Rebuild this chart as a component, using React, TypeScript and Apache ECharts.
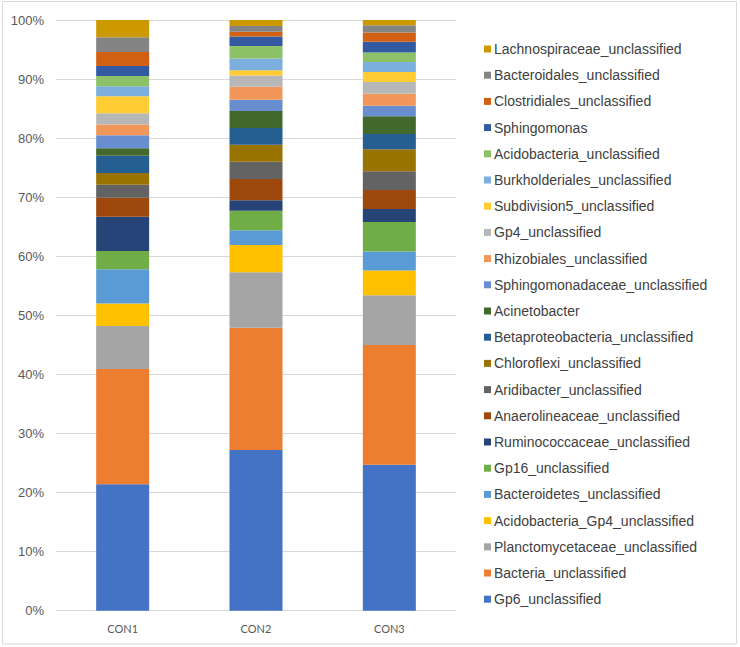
import React, { useEffect, useRef } from "react";
import * as echarts from "echarts";

const categories = ["CON1", "CON2", "CON3"];

const seriesNames = [
  "Gp6_unclassified",
  "Bacteria_unclassified",
  "Planctomycetaceae_unclassified",
  "Acidobacteria_Gp4_unclassified",
  "Bacteroidetes_unclassified",
  "Gp16_unclassified",
  "Ruminococcaceae_unclassified",
  "Anaerolineaceae_unclassified",
  "Aridibacter_unclassified",
  "Chloroflexi_unclassified",
  "Betaproteobacteria_unclassified",
  "Acinetobacter",
  "Sphingomonadaceae_unclassified",
  "Rhizobiales_unclassified",
  "Gp4_unclassified",
  "Subdivision5_unclassified",
  "Burkholderiales_unclassified",
  "Acidobacteria_unclassified",
  "Sphingomonas",
  "Clostridiales_unclassified",
  "Bacteroidales_unclassified",
  "Lachnospiraceae_unclassified",
];

// values in %, per series: [CON1, CON2, CON3]
const gp6 = [21.4, 27.2, 24.7];
const bacteria = [19.5, 20.7, 20.3];
const planctomycetaceae = [7.3, 9.4, 8.4];
const acidobacteriaGp4 = [3.8, 4.6, 4.2];
const bacteroidetes = [5.8, 2.5, 3.2];
const gp16 = [3.1, 3.3, 5.0];
const ruminococcaceae = [5.8, 1.8, 2.2];
const anaerolineaceae = [3.2, 3.6, 3.2];
const aridibacter = [2.2, 2.9, 3.2];
const chloroflexi = [2.0, 2.9, 3.7];
const betaproteobacteria = [2.9, 2.8, 2.6];
const acinetobacter = [1.3, 2.9, 3.0];
const sphingomonadaceae = [2.2, 1.9, 1.8];
const rhizobiales = [1.8, 2.2, 2.0];
const gp4 = [1.9, 1.9, 2.0];
const subdivision5 = [2.9, 0.9, 1.7];
const burkholderiales = [1.7, 2.0, 1.7];
const acidobacteria = [1.7, 2.1, 1.6];
const sphingomonas = [1.7, 1.6, 1.8];
const clostridiales = [2.4, 0.8, 1.6];
const bacteroidales = [2.5, 1.0, 1.2];
const lachnospiraceae = [2.9, 1.0, 0.9];

const seriesValues = [
  gp6, bacteria, planctomycetaceae, acidobacteriaGp4, bacteroidetes, gp16,
  ruminococcaceae, anaerolineaceae, aridibacter, chloroflexi, betaproteobacteria,
  acinetobacter, sphingomonadaceae, rhizobiales, gp4, subdivision5,
  burkholderiales, acidobacteria, sphingomonas, clostridiales, bacteroidales,
  lachnospiraceae,
];

const colors = [
  "#4472C4", "#ED7D31", "#A5A5A5", "#FFC000", "#5B9BD5", "#70AD47",
  "#264478", "#9E480E", "#636363", "#997300", "#255E91", "#43682B",
  "#698ED0", "#F1975A", "#B7B7B7", "#FFCD33", "#7CAFDD", "#8CC168",
  "#335AA1", "#D26012", "#848484", "#CC9A00",
];

const yTicks = [0, 10, 20, 30, 40, 50, 60, 70, 80, 90, 100];

export default function App() {
  const ref = useRef<HTMLDivElement>(null);
  useEffect(() => {
    if (!ref.current) return;
    const chart = echarts.init(ref.current, null, { renderer: "svg" });
    chart.setOption({
      animation: false,
      backgroundColor: "#ffffff",
      color: colors,
      graphic: [
        {
          type: "rect",
          shape: { x: 2.5, y: 1.5, width: 734, height: 642.5 },
          style: { fill: "none", stroke: "#D9D9D9", lineWidth: 1 },
          silent: true,
        },
      ],
      grid: { left: 56, top: 20, width: 400, height: 590.7, containLabel: false },
      legend: {
        orient: "vertical",
        left: 479,
        top: 36,
        itemWidth: 7,
        itemHeight: 7,
        itemGap: 10.2,
        icon: "rect",
        data: seriesNames.slice().reverse(),
        textStyle: {
          fontFamily: "Liberation Sans, Arial, sans-serif",
          fontSize: 14,
          color: "#404040",
          lineHeight: 16,
          padding: [0, 0, 0, -2],
        },
      },
      xAxis: {
        type: "category",
        data: categories,
        axisLine: { lineStyle: { color: "#D9D9D9" } },
        axisTick: { show: false },
        axisLabel: {
          color: "#595959",
          fontFamily: "Lato, Open Sans, sans-serif",
          fontSize: 11,
          margin: 12,
        },
      },
      yAxis: {
        type: "value",
        min: 0,
        max: 100,
        interval: 10,
        axisLine: { show: false },
        axisTick: { show: false },
        splitLine: { lineStyle: { color: "#D9D9D9" } },
        axisLabel: {
          color: "#595959",
          fontFamily: "Liberation Sans, Arial, sans-serif",
          fontSize: 13,
          margin: 12,
          formatter: (v: number) => (yTicks.includes(v) ? v + "%" : ""),
        },
      },
      series: seriesNames.map((name, i) => ({
        name,
        type: "bar",
        stack: "total",
        barWidth: 53,
        data: seriesValues[i],
        itemStyle: { color: colors[i] },
      })),
    });
    return () => chart.dispose();
  }, []);
  return (
    <div
      ref={ref}
      style={{ position: "fixed", left: 0, top: 0, width: 740, height: 647 }}
    />
  );
}
